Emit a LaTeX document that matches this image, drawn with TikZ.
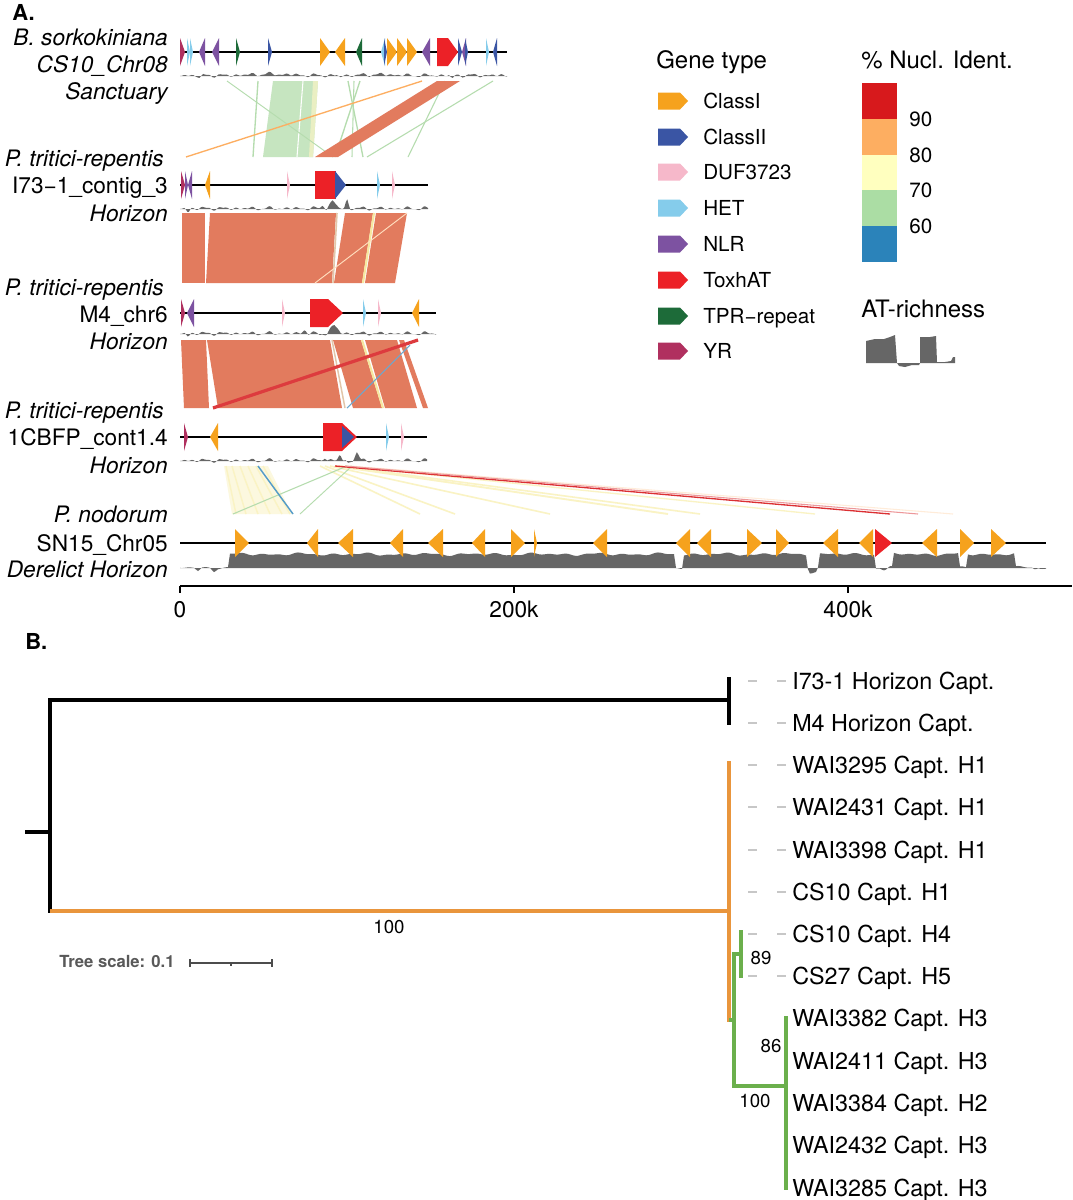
\documentclass[tikz,border=0pt]{standalone}
\usepackage{fontspec}
\setmainfont{TeX Gyre Heros}
\definecolor{cI}{HTML}{F6A21D}
\definecolor{cII}{HTML}{3A55A4}
\definecolor{cDUF}{HTML}{F6B8CA}
\definecolor{cHET}{HTML}{85CCEB}
\definecolor{cNLR}{HTML}{7D52A1}
\definecolor{cTox}{HTML}{EC2127}
\definecolor{cTPR}{HTML}{1D6B39}
\definecolor{cYR}{HTML}{B0305F}
\definecolor{s90}{HTML}{D7191C}
\definecolor{s80}{HTML}{FDAE61}
\definecolor{s70}{HTML}{FFFFBF}
\definecolor{s60}{HTML}{ABDDA4}
\definecolor{s50}{HTML}{2B83BA}
\definecolor{band}{HTML}{E27B5E}
\definecolor{gband}{HTML}{C6E5C0}
\definecolor{gline}{HTML}{B5DCAE}
\definecolor{ylw}{HTML}{FAF3C4}
\definecolor{ylwd}{HTML}{F6E7A0}
\definecolor{atg}{HTML}{666666}
\definecolor{tor}{HTML}{E9953C}
\definecolor{tgr}{HTML}{6BAF4C}
\newcommand\gR[4]{\fill[#1] (#2,#4-14) -- (#3,#4) -- (#2,#4+14) -- cycle;}
\newcommand\gL[4]{\fill[#1] (#3,#4-14) -- (#2,#4) -- (#3,#4+14) -- cycle;}
\newcommand\gTox[4]{\fill[cTox] (#1,#4-14) -- (#2,#4-14) -- (#3,#4) -- (#2,#4+14) -- (#1,#4+14) -- cycle;}
\newcommand\atp[4]{\fill[atg] (#1,#3) -- plot[domain=#1:#2,samples=170] (\x,{#3-(0.6+1.5*sin(29*\x)*sin(13*\x)+0.9*sin(23*\x+40)#4)}) -- (#2,#3) -- cycle;}
\newcommand\legarrow[2]{\fill[#1] (658,#2-8.5) -- (680,#2-8.5) -- (688,#2) -- (680,#2+8.5) -- (658,#2+8.5) -- cycle;}
\begin{document}
\begin{tikzpicture}[x=0.75pt,y=-0.75pt,
  lab/.style={inner sep=0pt,font=\fontsize{17}{20}\selectfont},
  labi/.style={inner sep=0pt,font=\fontsize{17}{20}\selectfont\itshape},
  leg/.style={inner sep=0pt,font=\fontsize{15.5}{18}\selectfont},
  head/.style={inner sep=0pt,font=\fontsize{18}{21}\selectfont},
  tlab/.style={inner sep=0pt,font=\fontsize{17.5}{20}\selectfont},
  blab/.style={inner sep=0pt,font=\fontsize{14}{16}\selectfont},
  panel/.style={inner sep=0pt,font=\fontsize{16.5}{18}\selectfont\bfseries},
  trk/.style={line width=1.5pt,black},
  tb/.style={line width=2.3pt,line cap=rect},
  lead/.style={line width=0.8pt,black!22,dash pattern=on 6.75pt off 15pt},
]
\useasboundingbox (0,0) rectangle (1073,1200);
\fill[white] (0,0) rectangle (1073,1200);

% ---------------- panel labels
\node[panel,anchor=base west] (pA) at (12,20) {A.};
\node[panel,anchor=base west] (pB) at (25,649) {B.};

% ---------------- synteny 1 -> 2
\fill[gband] (273,81) -- (318,81) -- (313,157) -- (263,157) -- cycle;
\fill[ylw!70!gband] (313,81) -- (318,81) -- (313,157) -- (309,157) -- cycle;
\draw[white,line width=0.8pt] (303,81) -- (297,157);
\draw[gline,line width=1pt] (258,81) -- (253,157);
\draw[gline,line width=0.7pt] (227,81) -- (333,157);
\draw[gline,line width=1pt] (348,81) -- (363,157);
\draw[gline,line width=1pt] (360,81) -- (335,157);
\draw[gline,line width=0.8pt] (354,81) -- (352,157);
\draw[gline,line width=0.8pt] (493,81) -- (367,157);
\draw[gline,line width=0.8pt] (445,81) -- (408,157);
\draw[s80,line width=1pt] (422,81) -- (186,157);
\fill[band] (437,81) -- (460,81) -- (338,157) -- (315,157) -- cycle;

% ---------------- synteny 2 -> 3
\fill[band] (182,213) -- (205,213) -- (205,283) -- (182,283) -- cycle;
\fill[band] (210,213) -- (336,213) -- (332,283) -- (206,283) -- cycle;
\fill[band] (345,213) -- (373,213) -- (362,283) -- (334,283) -- cycle;
\fill[band] (376,213) -- (407,213) -- (395,283) -- (365,283) -- cycle;
\draw[ylwd,line width=1.6pt] (374,213) -- (363,283);
\draw[brown!45,line width=1.2pt] (337,213) -- (333,283);
\draw[orange!25,line width=0.7pt] (407,213) -- (315,283);

% ---------------- synteny 3 -> 4
\fill[band] (181,340) -- (206,340) -- (209,408) -- (184,408) -- cycle;
\fill[band] (207,340) -- (330,340) -- (342,408) -- (218,408) -- cycle;
\fill[band] (333,340) -- (361,340) -- (382,408) -- (353,408) -- cycle;
\fill[band] (365,340) -- (397,340) -- (417,408) -- (385,408) -- cycle;
\fill[band] (399,340) -- (404,340) -- (428,408) -- (423,408) -- cycle;
\draw[ylwd,line width=1.6pt] (362,340) -- (383,408);
\draw[brown!45,line width=1.1pt] (332,340) -- (345,408);
\draw[s50!70,line width=0.8pt] (410,345) -- (347,408);
\draw[s90!85,line width=2.4pt] (418,340) -- (213,408);

% ---------------- synteny 4 -> 5
\fill[ylw!55] (224,466) -- (268,466) -- (292,514) -- (232,514) -- cycle;
\foreach \a/\b in {226/236,232/246,240/258,248/270,256/282,263/290}{\draw[ylw,line width=1.1pt] (\a,466) -- (\b,514);}
\draw[ylw,line width=1.2pt] (320,466) -- (420,514);
\draw[ylw,line width=1.2pt] (325,466) -- (455,514);
\draw[ylw,line width=1.2pt] (330,466) -- (550,514);
\draw[ylw,line width=1.4pt] (335,466) -- (668,514);
\draw[ylw,line width=1.2pt] (340,466) -- (700,514);
\draw[ylw,line width=1pt] (345,466) -- (815,514);
\draw[orange!15,line width=0.8pt] (350,466) -- (953,514);
\draw[gline,line width=0.8pt] (347,466) -- (233,514);
\draw[gline,line width=0.7pt] (352,466) -- (300,514);
\draw[s50!80,line width=1.1pt] (258,466) -- (293,514);
\draw[s90!90,line width=1pt] (335,466) -- (890,514);
\draw[s90!45,line width=0.8pt] (345,466) -- (918,514);

% ---------------- AT profiles
\atp{180}{507}{76}{+1.5*max(0,1-abs(\x-270)/40)+1*max(0,1-abs(\x-380)/30)-4*max(0,1-abs(\x-452)/3)-3*max(0,1-abs(\x-200)/3)-2*max(0,1-abs(\x-340)/3)}
\atp{180}{428}{209}{+8*max(0,1-abs(\x-333)/6)+9*max(0,1-abs(\x-347)/3)+4*max(0,1-abs(\x-323)/3)-4*max(0,1-abs(\x-188)/3)}
\atp{180}{436}{334}{+9*max(0,1-abs(\x-334)/7)+4*max(0,1-abs(\x-305)/4)-3*max(0,1-abs(\x-188)/3)-2*max(0,1-abs(\x-320)/3)}
\atp{180}{427}{461}{+6*max(0,1-abs(\x-340)/3)+8*max(0,1-abs(\x-357)/4)+4*max(0,1-abs(\x-325)/3)-3*max(0,1-abs(\x-348)/3)}
\fill[atg] (180,568) -- plot[domain=180:1046,samples=434] (\x,{568-(13.5*((\x>228)*(\x<675)+(\x>682)*(\x<807)+(\x>819)*(\x<875)+(\x>893)*(\x<959)+(\x>966)*(\x<1016))+1.2*sin(13*\x)*sin(7*\x)+0.7*sin(11*\x+20)+0.3-4*(\x>808)*(\x<818)-3*max(0,1-abs(\x-885)/5)-3*max(0,1-abs(\x-198)/4)-3*max(0,1-abs(\x-214)/4)-2*max(0,1-abs(\x-1035)/3))}) -- (1046,568) -- cycle;

% ---------------- tracks
\draw[trk] (180,52) -- (507,52);
\draw[trk] (180,185) -- (428,185);
\draw[trk] (180,313) -- (436,313);
\draw[trk] (180,437) -- (427,437);
\draw[trk] (180,543) -- (1046,543);

% track 1
\gR{cYR}{180}{185}{52}
\gR{cHET}{187}{190}{52} \gR{cHET}{190}{193}{52}
\gL{cNLR}{199}{205}{52}
\gL{cNLR}{212}{219}{52}
\gR{cTPR}{236}{240}{52}
\gR{cII}{268}{272}{52}
\gR{cI}{320}{330}{52}
\gL{cI}{335}{345}{52}
\gL{cTPR}{356}{362}{52}
\gL{cHET}{381}{385}{52} \gR{cII}{384}{387}{52}
\gR{cI}{387}{397}{52}
\gR{cI}{397}{407}{52}
\gR{cI}{407}{417}{52}
\gL{cNLR}{422}{430}{52}
\gTox{437}{448}{458}{52}
\gR{cII}{458}{462}{52} \gL{cNLR}{462}{466}{52} \gR{cII}{465}{468}{52}
\gR{cHET}{486}{489}{52}
\gL{cII}{493}{497}{52}
% track 2
\gR{cYR}{181}{185}{185}
\gR{cNLR}{185}{188}{185} \gL{cNLR}{188}{192}{185}
\gL{cI}{205}{210}{185}
\gR{cDUF}{287}{290}{185}
\fill[cTox] (315,171) rectangle (336,199);
\gR{cII}{335}{346}{185}
\gR{cHET}{377}{380}{185}
\gR{cDUF}{392}{395}{185}
% track 3
\gR{cYR}{181}{185}{313}
\gL{cNLR}{187}{194}{313}
\gR{cDUF}{282}{285}{313}
\gTox{310}{328}{343}{313}
\gR{cHET}{363}{366}{313}
\gR{cDUF}{378}{381}{313}
\gL{cI}{412}{419}{313}
% track 4
\gR{cYR}{184}{188}{437}
\gL{cI}{210}{218}{437}
\gTox{323}{342}{357}{437}
\fill[cII] (342,437-11) -- (354,437) -- (342,437+11) -- cycle;
\gR{cHET}{386}{389}{437}
\gR{cDUF}{401}{404}{437}
% track 5
\gR{cI}{235}{249}{543} \gL{cI}{307}{318}{543} \gL{cI}{338}{353}{543}
\gL{cI}{390}{403}{543} \gL{cI}{428}{443}{543} \gL{cI}{472}{485}{543}
\gR{cI}{511}{525}{543} \gR{cI}{534}{537}{543} \gL{cI}{593}{607}{543}
\gL{cI}{676}{690}{543} \gL{cI}{697}{711}{543} \gR{cI}{747}{762}{543}
\gR{cI}{776}{789}{543} \gL{cI}{823}{838}{543} \gL{cI}{859}{873}{543}
\gR{cTox}{875}{892}{543} \gL{cI}{922}{937}{543} \gR{cI}{960}{974}{543}
\gR{cI}{991}{1006}{543}

% ---------------- track labels
\node[labi,anchor=base east] (s1) at (168,45) {B. sorkokiniana};
\node[labi,anchor=base east] (i1) at (168,72) {CS10\_Chr08};
\node[labi,anchor=base east] (h1) at (168,99) {Sanctuary};
\node[labi,anchor=base east] (s2) at (164,166) {P. tritici-repentis};
\node[lab,anchor=base east] (i2) at (168,193) {I73−1\_contig\_3};
\node[labi,anchor=base east] (h2) at (168,221) {Horizon};
\node[labi,anchor=base east] (s3) at (164,295) {P. tritici-repentis};
\node[lab,anchor=base east] (i3) at (168,322) {M4\_chr6};
\node[labi,anchor=base east] (h3) at (168,349) {Horizon};
\node[labi,anchor=base east] (s4) at (164,418) {P. tritici-repentis};
\node[lab,anchor=base east] (i4) at (168,445) {1CBFP\_cont1.4};
\node[labi,anchor=base east] (h4) at (168,473) {Horizon};
\node[labi,anchor=base east] (s5) at (168,522) {P. nodorum};
\node[lab,anchor=base east] (i5) at (168,551) {SN15\_Chr05};
\node[labi,anchor=base east] (h5) at (168,577) {Derelict Horizon};

% ---------------- axis
\draw[line width=1.1pt] (180,586) -- (1072,586);
\draw[line width=1.1pt] (180,586) -- (180,593);
\draw[line width=1.1pt] (514,586) -- (514,593);
\draw[line width=1.1pt] (848,586) -- (848,593);
\node[lab,anchor=base] (t0) at (180,617) {0};
\node[lab,anchor=base] (t200) at (514,617) {200k};
\node[lab,anchor=base] (t400) at (848,617) {400k};

% ---------------- legend: gene type
\node[head,anchor=base west] (gt) at (656,68) {Gene type};
\legarrow{cI}{101}   \node[leg,anchor=base west] (l1) at (703,108.5) {ClassI};
\legarrow{cII}{137}  \node[leg,anchor=base west] (l2) at (703,144.5) {ClassII};
\legarrow{cDUF}{172} \node[leg,anchor=base west] (l3) at (703,179.5) {DUF3723};
\legarrow{cHET}{208} \node[leg,anchor=base west] (l4) at (703,215.5) {HET};
\legarrow{cNLR}{244} \node[leg,anchor=base west] (l5) at (703,251.5) {NLR};
\legarrow{cTox}{280} \node[leg,anchor=base west] (l6) at (703,287.5) {ToxhAT};
\legarrow{cTPR}{316} \node[leg,anchor=base west] (l7) at (703,323.5) {TPR−repeat};
\legarrow{cYR}{351}  \node[leg,anchor=base west] (l8) at (703,358.5) {YR};

% ---------------- legend: identity
\node[head,anchor=base west] (ni) at (861,68) {\% Nucl. Ident.};
\fill[s90] (862,83) rectangle (897,119);
\fill[s80] (862,119) rectangle (897,155);
\fill[s70] (862,155) rectangle (897,190);
\fill[s60] (862,190) rectangle (897,226);
\fill[s50] (862,226) rectangle (897,262);
\node[leg,anchor=base west] (n90) at (909,126.5) {90};
\node[leg,anchor=base west] (n80) at (909,162.5) {80};
\node[leg,anchor=base west] (n70) at (909,197.5) {70};
\node[leg,anchor=base west] (n60) at (909,233.5) {60};

% ---------------- legend: AT richness
\node[head,anchor=base west] (atr) at (861,317) {AT-richness};
\fill[atg] (866,363) -- (866,341) -- (875,339) -- (884,339) -- (890,337) -- (895,335) -- (897,363) -- (899,366) -- (905,367) -- (912,365) -- (919,365) -- (920,363) -- (920,337) -- (930,337) -- (936,336) -- (937,362) -- (945,362) -- (951,361) -- (953,357) -- (955,357) -- (955,363) -- cycle;

% ---------------- tree
\draw[tb,black] (27,832) -- (50,832);
\draw[tb,black] (50,700) -- (50,911);
\draw[tb,black] (50,700) -- (729,700);
\draw[tb,black] (729,679) -- (729,723);
\draw[tb,tor] (52,911) -- (729,911);
\draw[tb,tor] (729,763) -- (729,1020);
\draw[tb,tgr] (731,1020) -- (734,1020);
\draw[tb,tgr] (734,954) -- (734,1086);
\draw[tb,tgr] (734,954) -- (741,954);
\draw[tb,tgr] (741,932) -- (741,976);
\draw[tb,tgr] (734,1086) -- (786,1086);
\draw[tb,tgr] (786,1018) -- (786,1188);

\foreach \r in {681,723,765,807,850,892,934,976}{\draw[lead] (748,\r) -- (786,\r);}

\node[tlab,anchor=base west] (r1) at (792,689.4) {I73-1 Horizon Capt.};
\node[tlab,anchor=base west] (r2) at (792,731.4) {M4 Horizon Capt.};
\node[tlab,anchor=base west] (r3) at (792,773.4) {WAI3295 Capt. H1};
\node[tlab,anchor=base west] (r4) at (792,815.4) {WAI2431 Capt. H1};
\node[tlab,anchor=base west] (r5) at (792,858.4) {WAI3398 Capt. H1};
\node[tlab,anchor=base west] (r6) at (792,900.4) {CS10 Capt. H1};
\node[tlab,anchor=base west] (r7) at (792,942.4) {CS10 Capt. H4};
\node[tlab,anchor=base west] (r8) at (792,984.4) {CS27 Capt. H5};
\node[tlab,anchor=base west] (r9) at (792,1026.4) {WAI3382 Capt. H3};
\node[tlab,anchor=base west] (r10) at (792,1069.4) {WAI2411 Capt. H3};
\node[tlab,anchor=base west] (r11) at (792,1111.4) {WAI3384 Capt. H2};
\node[tlab,anchor=base west] (r12) at (792,1153.4) {WAI2432 Capt. H3};
\node[tlab,anchor=base west] (r13) at (792,1196.4) {WAI3285 Capt. H3};

\node[blab,anchor=base] (b100a) at (389,933) {100};
\node[blab,anchor=base] (b89) at (761,964) {89};
\node[blab,anchor=base] (b86) at (771,1052) {86};
\node[blab,anchor=base] (b100b) at (755,1107) {100};

% ---------------- tree scale
\node[inner sep=0pt,font=\fontsize{12.5}{14}\selectfont\bfseries,text=black!65,anchor=base west] (ts) at (59,967.5) {Tree scale: 0.1};
\draw[line width=0.9pt,black!70] (190,963) -- (272,963);
\draw[line width=0.9pt,black!70] (190,959) -- (190,967);
\draw[line width=0.9pt,black!70] (272,959) -- (272,967);
\draw[line width=0.9pt,black!70] (231,963) -- (231,966);
\end{tikzpicture}
\end{document}
